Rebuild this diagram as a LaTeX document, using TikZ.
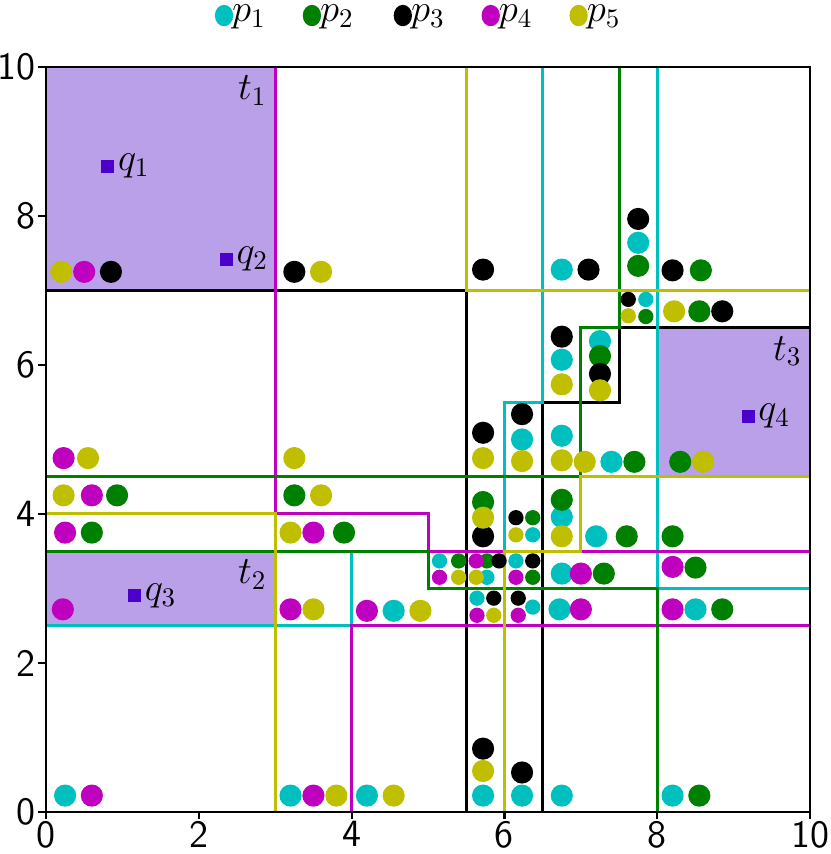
\documentclass[tikz,border=0pt]{standalone}
\usepackage{amsmath}
\usetikzlibrary{positioning}
\definecolor{cy}{rgb}{0,0.75,0.75}
\definecolor{gr}{rgb}{0,0.5,0}
\definecolor{mg}{rgb}{0.75,0,0.75}
\definecolor{yl}{rgb}{0.75,0.75,0}
\definecolor{tcol}{rgb}{0.725,0.627,0.910}
\definecolor{qcol}{rgb}{0.3,0,0.8}
\tikzstyle{big}=[radius=0.145cm]
\tikzstyle{small}=[radius=0.1cm]
\tikzstyle{bound}=[line width=1.1pt]

\begin{document}
\begin{tikzpicture}[x=1cm,y=0.975cm,font=\Large]
\useasboundingbox (-0.602,-0.564) rectangle (10.262,10.899);
% shaded boxes
\fill[tcol] (0,7) rectangle (3,10);
\fill[tcol] (8,4.5) rectangle (10,6.5);
\fill[tcol] (0,2.5) rectangle (3,3.5);
% boundaries
\draw[bound,black] (0,7) -- (5.5,7) -- (5.5,0);
\draw[bound,black] (6.5,0) -- (6.5,5.5) -- (7.5,5.5) -- (7.5,6.5) -- (10,6.5);
\draw[bound,cy] (6.5,10) -- (6.5,5.5) -- (6,5.5) -- (6,3.5);
\draw[bound,cy] (8,10) -- (8,3) -- (10,3);
\draw[bound,cy] (0,2.5) -- (4,2.5) -- (4,3.5);
\draw[bound,mg] (3,10) -- (3,4) -- (5,4) -- (5,3.5) -- (10,3.5);
\draw[bound,mg] (4,0) -- (4,2.5) -- (10,2.5);
\draw[bound,gr] (0,3.5) -- (5,3.5) -- (5,3) -- (8,3) -- (8,0);
\draw[bound,gr] (0,4.5) -- (7,4.5) -- (7,6.5) -- (7.5,6.5) -- (7.5,10);
\draw[bound,yl] (5.5,10) -- (5.5,7) -- (10,7);
\draw[bound,yl] (0,4) -- (3,4) -- (3,0);
\draw[bound,yl] (6,0) -- (6,3.5) -- (7,3.5) -- (7,4.5) -- (10,4.5);
% points
\foreach \x/\y in {6.75/7.28,7.75/7.64,6.23/5.0,6.75/6.07,7.25/6.32,6.75/5.05,7.4/4.7,
  6.75/3.96,7.2/3.7,6.75/3.2,6.72/2.72,8.5/2.72,4.55/2.7,0.25/0.22,3.2/0.22,4.2/0.22,
  5.72/0.22,6.23/0.22,6.75/0.22,8.2/0.22}
  \fill[cy,big] (\x,\y) circle;
\foreach \x/\y in {7.75/7.33,8.57/7.27,8.55/6.72,7.25/6.12,7.7/4.7,8.3/4.7,0.93/4.25,
  3.25/4.25,0.6/3.75,3.9/3.75,5.72/4.16,6.75/4.19,7.6/3.7,8.2/3.7,7.3/3.2,8.5/3.28,
  8.85/2.72,8.55/0.22}
  \fill[gr,big] (\x,\y) circle;
\foreach \x/\y in {0.85/7.25,3.25/7.25,5.72/7.28,7.1/7.28,7.75/7.96,8.2/7.27,8.85/6.72,
  6.75/6.38,7.25/5.88,5.72/5.09,6.23/5.34,5.72/3.7,5.72/0.85,6.23/0.53}
  \fill[black,big] (\x,\y) circle;
\foreach \x/\y in {0.5/7.25,0.23/4.75,0.6/4.25,0.25/3.75,3.5/3.75,0.22/2.72,3.2/2.72,
  4.2/2.7,7.0/3.2,8.2/3.29,7.0/2.72,8.2/2.72,0.6/0.22,3.5/0.22}
  \fill[mg,big] (\x,\y) circle;
\foreach \x/\y in {0.2/7.25,3.6/7.25,8.22/6.72,6.75/5.74,7.25/5.66,5.72/4.75,6.23/4.71,
  6.75/4.72,7.05/4.7,8.6/4.7,0.55/4.75,3.25/4.75,0.23/4.25,3.6/4.25,3.2/3.75,5.72/3.95,
  6.75/3.7,3.5/2.72,4.9/2.7,3.8/0.22,4.55/0.22,5.72/0.55}
  \fill[yl,big] (\x,\y) circle;
% small points
\foreach \x/\y in {7.85/6.88,6.37/3.72,5.15/3.37,5.77/3.15,6.15/3.37,5.64/2.87,6.37/2.75}
  \fill[cy,small] (\x,\y) circle;
\foreach \x/\y in {7.85/6.65,6.37/3.95,5.4/3.37,5.77/3.37,6.37/3.15}
  \fill[gr,small] (\x,\y) circle;
\foreach \x/\y in {7.62/6.88,6.15/3.95,5.93/3.37,6.37/3.37,5.86/2.87,6.18/2.87}
  \fill[black,small] (\x,\y) circle;
\foreach \x/\y in {5.63/3.37,5.15/3.15,6.15/3.15,5.64/2.64,6.18/2.64}
  \fill[mg,small] (\x,\y) circle;
\foreach \x/\y in {7.62/6.66,6.15/3.72,5.4/3.15,5.63/3.15,5.86/2.64}
  \fill[yl,small] (\x,\y) circle;
% queries
\node[fill=qcol,inner sep=0,minimum size=0.17cm,label={[inner sep=1pt]right:$q_1$}] (q1) at (0.81,8.67) {};
\node[fill=qcol,inner sep=0,minimum size=0.17cm,label={[inner sep=1pt]right:$q_2$}] (q2) at (2.36,7.42) {};
\node[fill=qcol,inner sep=0,minimum size=0.17cm,label={[inner sep=1pt]right:$q_3$}] (q3) at (1.16,2.9) {};
\node[fill=qcol,inner sep=0,minimum size=0.17cm,label={[inner sep=1pt]right:$q_4$}] (q4) at (9.19,5.31) {};
\node[anchor=north east,inner sep=3pt] (t1) at (3,10) {$t_1$};
\node[anchor=north east,inner sep=3pt] (t2) at (3,3.5) {$t_2$};
\node[anchor=north east,inner sep=3pt] (t3) at (10,6.5) {$t_3$};
% frame and ticks
\draw[line width=0.8pt] (0,0) rectangle (10,10);
\foreach \v in {0,2,...,10} {
  \draw[line width=0.8pt] (\v,0) -- ++(0,-0.1);
  \draw[line width=0.8pt] (0,\v) -- ++(-0.1,0);
  \node[below,font=\Large\sffamily,inner sep=0pt] (xt\v) at (\v,-0.12) {\v};
  \node[left,font=\Large\sffamily,inner sep=1pt] (yt\v) at (-0.1,\v) {\v};
}
% legend
\foreach \c/\x/\i in {cy/2.33/1,gr/3.48/2,black/4.67/3,mg/5.82/4,yl/6.97/5} {
  \fill[\c] (\x,10.69) circle[x radius=0.12cm,y radius=0.14cm];
  \node[right,inner sep=0pt,font=\Large] (leg\i) at (\x+0.1,10.67) {$p_\i$};
}
\end{tikzpicture}
\end{document}
